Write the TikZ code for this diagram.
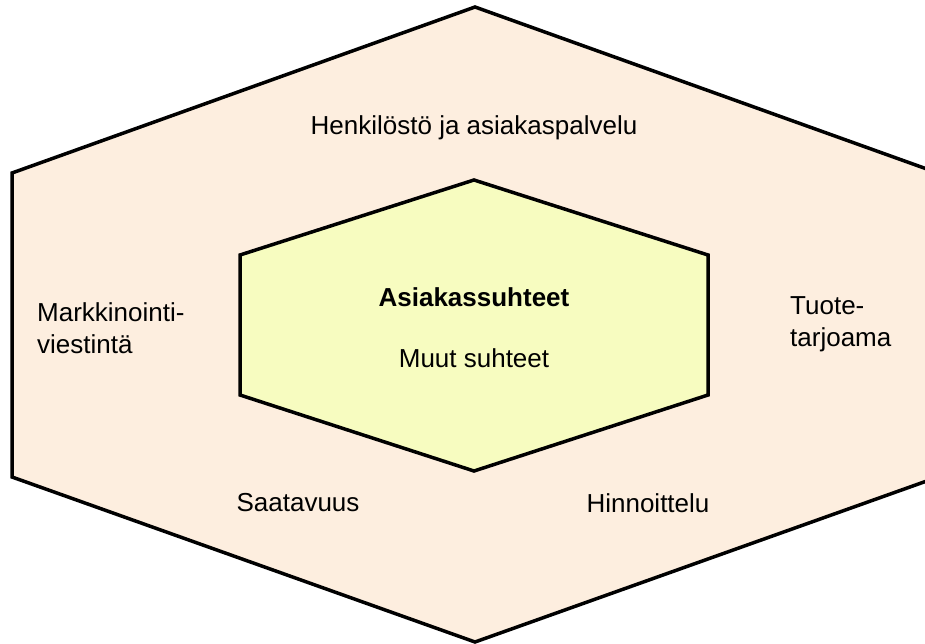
\documentclass[tikz,border=0pt]{standalone}
\usepackage{fontspec}
\setmainfont{Liberation Sans}
\definecolor{outerfill}{HTML}{FDEEDF}
\definecolor{innerfill}{HTML}{F7FCC0}
\begin{document}
\begin{tikzpicture}[x=1pt,y=-1pt,
  hexline/.style={draw=black,line width=3.5pt,line join=miter},
  lbl/.style={font=\fontsize{26}{32}\selectfont,inner sep=0pt},
  lbll/.style={lbl,align=left,anchor=west}]
\useasboundingbox (0,0) rectangle (925,644);
\clip (0,0) rectangle (925,644);
% outer hexagon
\draw[hexline,fill=outerfill] (475,7) -- (938,173) -- (938,477) -- (475,642)
  -- (12,477) -- (12,173) -- cycle;
% inner hexagon
\draw[hexline,fill=innerfill] (474,180) -- (708,255) -- (708,395) -- (474,471)
  -- (240,395) -- (240,255) -- cycle;
% labels
\node[lbl] (top) at (474,128) {Henkilöstö ja asiakaspalvelu};
\node[lbll] (left) at (37,328) {Markkinointi-\\viestintä};
\node[lbll] (right) at (790,324) {Tuote-\\tarjoama};
\node[lbl] (bl) at (298,503) {Saatavuus};
\node[lbl] (br) at (648,503) {Hinnoittelu};
\node[lbl,font=\fontsize{26}{32}\selectfont\bfseries] (core) at (474,297) {Asiakassuhteet};
\node[lbl] (other) at (474,358) {Muut suhteet};
\end{tikzpicture}
\end{document}
